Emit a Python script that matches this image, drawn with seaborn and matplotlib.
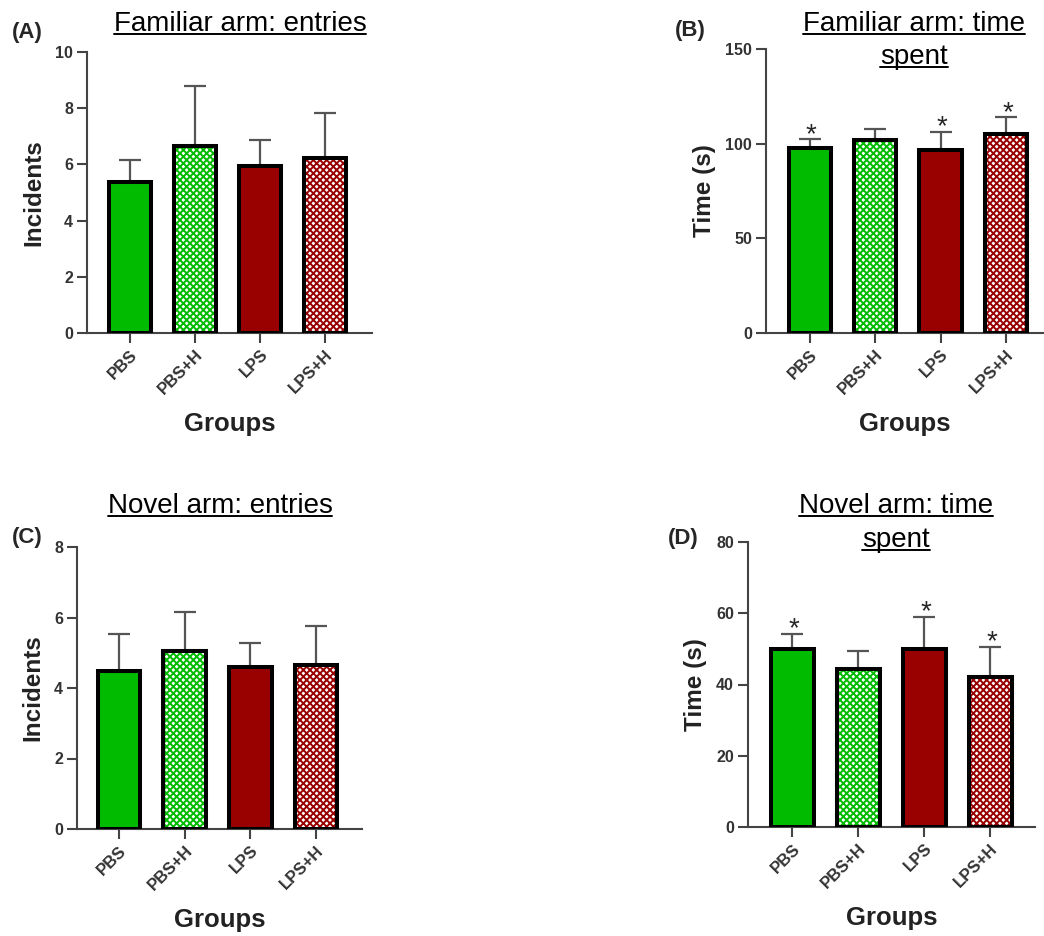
import numpy as np
import pandas as pd
import seaborn as sns
import matplotlib.pyplot as plt
from matplotlib.lines import Line2D
from matplotlib.patches import Rectangle

groups = ["PBS", "PBS+H", "LPS", "LPS+H"]
bar_colors = ["#00bb00", "#00bb00", "#990000", "#990000"]
hatched = [False, True, False, True]

fam_entries_mean = [5.37, 6.66, 5.95, 6.23]
fam_entries_sem = [0.79, 2.13, 0.92, 1.60]
fam_time_mean = [97.7, 102.0, 96.7, 105.0]
fam_time_sem = [4.8, 5.6, 9.6, 9.0]
nov_entries_mean = [4.48, 5.04, 4.59, 4.65]
nov_entries_sem = [1.04, 1.11, 0.68, 1.10]
nov_time_mean = [50.0, 44.4, 50.0, 42.1]
nov_time_sem = [4.2, 5.0, 9.0, 8.5]

no_stars = [False, False, False, False]
time_stars = [True, False, True, True]

W, H = 1044, 936

sns.set_style("ticks")
plt.rcParams["font.family"] = ["Liberation Sans", "DejaVu Sans"]
plt.rcParams["hatch.linewidth"] = 1.4

# panel: letter, title lines, ylabel, ymax, ystep, data, stars,
#        axes box in px (left, right, top, bottom), xlim, title center/baselines, letter pos
panels = [
    dict(letter="(A)", title=["Familiar arm: entries"], ylabel="Incidents",
         ymax=10, ystep=2, mean=fam_entries_mean, sem=fam_entries_sem, stars=no_stars,
         box=(87, 372, 52, 333), xlim=(-0.66, 3.72), tx=240, tbase=[31], lpos=(12, 38)),
    dict(letter="(B)", title=["Familiar arm: time", "spent"], ylabel="Time (s)",
         ymax=150, ystep=50, mean=fam_time_mean, sem=fam_time_sem, stars=time_stars,
         box=(766, 1044, 49, 333), xlim=(-0.67, 3.58), tx=914, tbase=[31, 64], lpos=(675, 36)),
    dict(letter="(C)", title=["Novel arm: entries"], ylabel="Incidents",
         ymax=8, ystep=2, mean=nov_entries_mean, sem=nov_entries_sem, stars=no_stars,
         box=(77, 362, 547, 829), xlim=(-0.64, 3.70), tx=220, tbase=[513], lpos=(12, 543)),
    dict(letter="(D)", title=["Novel arm: time", "spent"], ylabel="Time (s)",
         ymax=80, ystep=20, mean=nov_time_mean, sem=nov_time_sem, stars=time_stars,
         box=(748, 1035, 542, 827), xlim=(-0.67, 3.68), tx=896, tbase=[513, 547], lpos=(668, 544)),
]

fig = plt.figure(figsize=(W / 100, H / 100), dpi=100)
title_texts = []

for p in panels:
    l, r, t, b = p["box"]
    ax = fig.add_axes([l / W, 1 - b / H, (r - l) / W, (b - t) / H])
    df = pd.DataFrame({"Group": groups, "Value": p["mean"]})
    sns.barplot(data=df, x="Group", y="Value", hue="Group", palette=bar_colors,
                saturation=1, width=0.65, edgecolor="black", linewidth=2.9,
                legend=False, errorbar=None, ax=ax, zorder=3)

    bars = sorted(ax.patches, key=lambda bp: bp.get_x())
    for bar, col, h in zip(bars, bar_colors, hatched):
        if h:
            bar.set_facecolor("white")
            bar.set_edgecolor(col)
            bar.set_linewidth(0)
            bar.set_hatch("xxxxx")
            ax.add_patch(Rectangle((bar.get_x(), bar.get_y()), bar.get_width(), bar.get_height(),
                                   fill=False, edgecolor="black", linewidth=2.9, zorder=4))

    xs = [bar.get_x() + bar.get_width() / 2 for bar in bars]
    ax.errorbar(xs, p["mean"], yerr=[np.zeros(len(xs)), p["sem"]], fmt="none",
                ecolor="#555555", elinewidth=1.6, capsize=8, capthick=1.6, zorder=2)

    for x, m, s, st in zip(xs, p["mean"], p["sem"], p["stars"]):
        if st:
            ax.annotate("*", (x, m + s), xytext=(1, -2), textcoords="offset points",
                        ha="center", va="baseline", fontsize=20)

    ax.set_ylim(0, p["ymax"])
    ax.set_yticks(np.arange(0, p["ymax"] + 1, p["ystep"]))
    ax.set_xlim(*p["xlim"])
    sns.despine(ax=ax)
    for side in ["left", "bottom"]:
        ax.spines[side].set_linewidth(1.5)
        ax.spines[side].set_color("#444444")
    ax.tick_params(axis="both", direction="out", length=7, width=1.5, color="#444444",
                   labelcolor="#333333", pad=3)
    for lab in ax.get_yticklabels():
        lab.set_fontsize(11.5)
        lab.set_fontweight("bold")
    ax.set_xticks(range(len(groups)))
    ax.set_xticklabels(groups, rotation=45, ha="right", rotation_mode="anchor",
                       fontsize=12, fontweight="bold")
    ax.set_ylabel(p["ylabel"], fontsize=17.5, fontweight="bold", color="#222222", labelpad=7)
    ax.set_xlabel("Groups", fontsize=18.5, fontweight="bold", color="#222222", labelpad=11)

    for line, base in zip(p["title"], p["tbase"]):
        txt = fig.text(p["tx"] / W, 1 - base / H, line, ha="center", va="baseline",
                       fontsize=20, color="black")
        title_texts.append((txt, base))

    fig.text(p["lpos"][0] / W, 1 - p["lpos"][1] / H, p["letter"], ha="left", va="baseline",
             fontsize=16, fontweight="bold")

fig.canvas.draw()
renderer = fig.canvas.get_renderer()
for txt, base in title_texts:
    bb = txt.get_window_extent(renderer)
    yb = 1 - (base + 3) / H
    fig.add_artist(Line2D([bb.x0 / W, bb.x1 / W], [yb, yb], transform=fig.transFigure,
                          color="black", linewidth=1.4))

fig.savefig("out.png", dpi=100)
